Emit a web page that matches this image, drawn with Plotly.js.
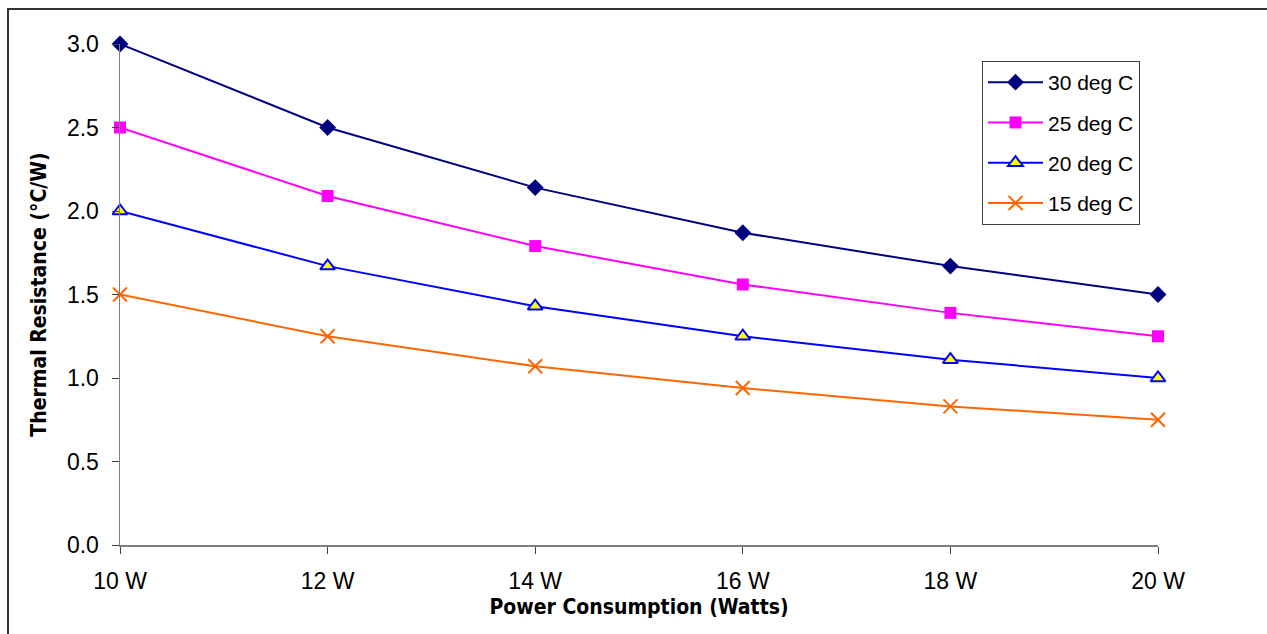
<!DOCTYPE html>
<html>
<head>
<meta charset="utf-8">
<script src="https://cdn.plot.ly/plotly-3.0.1.min.js"></script>
<style>html,body{margin:0;padding:0;background:#fff;}#chart{width:1267px;height:634px;}</style>
</head>
<body>
<div id="chart"></div>
<script>
const powerWatts = [10, 12, 14, 16, 18, 20];
const tickLabels = ["10 W", "12 W", "14 W", "16 W", "18 W", "20 W"];
const series30 = [3.00, 2.50, 2.14, 1.87, 1.67, 1.50];
const series25 = [2.50, 2.09, 1.79, 1.56, 1.39, 1.25];
const series20 = [2.00, 1.67, 1.43, 1.25, 1.11, 1.00];
const series15 = [1.50, 1.25, 1.07, 0.94, 0.83, 0.75];
const seriesNames = ["30 deg C", "25 deg C", "20 deg C", "15 deg C"];

const W = 1267, H = 634;
const L = 120, R = 109, T = 44, B = 89;
const pw = W - L - R, ph = H - T - B;

const traces = [
  {x: powerWatts, y: series30, name: seriesNames[0], legendgroup: 'a', mode: 'lines+markers', cliponaxis: false,
   line: {color: '#000080', width: 2}, marker: {symbol: 'diamond', size: 13, color: '#000080'}},
  {x: powerWatts, y: series25, name: seriesNames[1], legendgroup: 'b', mode: 'lines+markers', cliponaxis: false,
   line: {color: '#FF00FF', width: 2}, marker: {symbol: 'square', size: 12, color: '#FF00FF'}},
  {x: powerWatts, y: series20, name: seriesNames[2], legendgroup: 'c', mode: 'lines+markers', cliponaxis: false,
   line: {color: '#0000FF', width: 2}, marker: {symbol: 'triangle-up', size: 13, color: '#FFFF00', line: {color: '#0000FF', width: 2}}},
  {x: powerWatts, y: series15, name: seriesNames[3], legendgroup: 'd', mode: 'lines+markers', cliponaxis: false,
   line: {color: '#FF6600', width: 2}, marker: {symbol: 'x-thin-open', size: 14, color: '#FF6600', line: {color: '#FF6600', width: 2}}}
];

const titleFont = {family: 'DejaVu Sans Condensed, Liberation Sans, sans-serif', size: 21, color: '#000', weight: 'bold'};

const layout = {
  width: W, height: H,
  margin: {l: L, r: R, t: T, b: B, pad: 0},
  paper_bgcolor: '#fff', plot_bgcolor: '#fff',
  font: {family: 'Liberation Sans, Arial, sans-serif', size: 21, color: '#000'},
  showlegend: true,
  legend: {
    x: (982 - L) / pw, y: (545 - 61) / ph, xanchor: 'left', yanchor: 'top',
    bordercolor: '#404040', borderwidth: 1, bgcolor: '#fff',
    font: {family: 'Liberation Sans, Arial, sans-serif', size: 21, color: '#000'},
    traceorder: 'grouped', tracegroupgap: 10, itemwidth: 55
  },
  xaxis: {
    range: [10, 20], tickvals: powerWatts, ticktext: tickLabels,
    showgrid: false, zeroline: false, showline: true, linecolor: '#7f7f7f', linewidth: 1.5,
    ticks: 'outside', ticklen: 7, tickcolor: '#404040', tickwidth: 1,
    ticklabelstandoff: 8,
    tickfont: {family: 'Liberation Sans, Arial, sans-serif', size: 23, color: '#000'},
    title: {text: 'Power Consumption (Watts)', standoff: 6, font: titleFont},
    automargin: false
  },
  yaxis: {
    range: [0, 3], tickvals: [0, 0.5, 1, 1.5, 2, 2.5, 3], tickformat: '.1f',
    showgrid: false, zeroline: false, showline: true, linecolor: '#7f7f7f', linewidth: 1.5,
    ticks: 'outside', ticklen: 7, tickcolor: '#404040', tickwidth: 1,
    ticklabelstandoff: 8,
    tickfont: {family: 'Liberation Sans, Arial, sans-serif', size: 23, color: '#000'},
    title: {text: 'Thermal Resistance (°C/W)', standoff: 14, font: titleFont},
    automargin: false
  },
  shapes: [{
    type: 'rect', xref: 'paper', yref: 'paper',
    x0: (8 - L) / pw, x1: (1275 - L) / pw,
    y0: (545 - 645) / ph, y1: (545 - 9) / ph,
    line: {color: '#333', width: 2}, fillcolor: 'rgba(0,0,0,0)', layer: 'below'
  }]
};

Plotly.newPlot('chart', traces, layout, {displayModeBar: false, staticPlot: true});
</script>
</body>
</html>
